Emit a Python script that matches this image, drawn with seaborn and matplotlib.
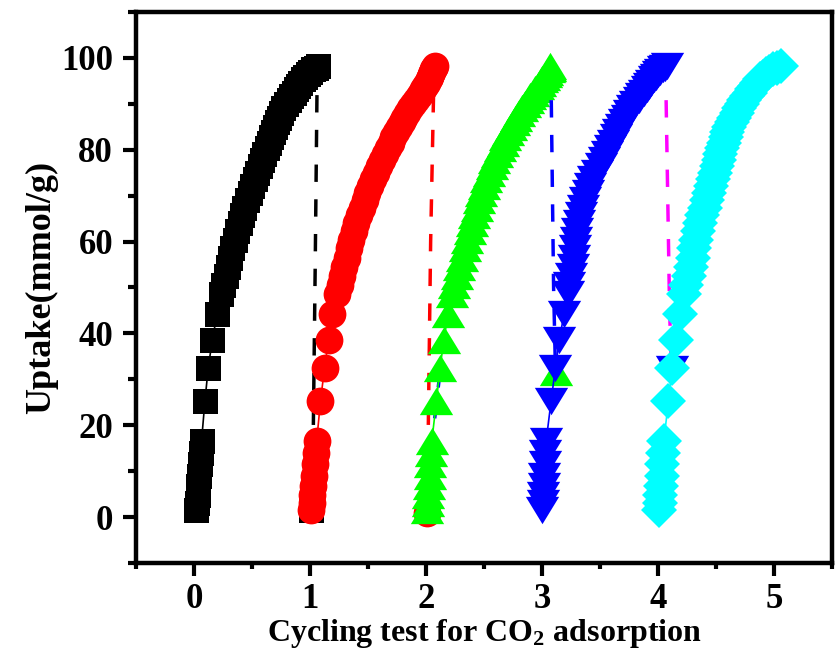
import matplotlib
matplotlib.use("Agg")
import matplotlib.pyplot as plt
from matplotlib.ticker import MultipleLocator
import seaborn as sns

# ---------------- data ----------------
uptake = [1.5, 3.0, 4.8, 6.8, 9.0, 11.5, 14.0, 16.6,
          25.2, 32.4, 38.6, 44.3,
          48.5, 50.5, 52.5, 54.5, 56.5, 58.5, 60.4, 62.2, 64.0, 65.7, 67.4, 69.0, 70.6, 72.1,
          73.6, 75.0, 76.4, 77.7, 79.0, 80.3, 81.5, 82.7, 83.8, 84.9, 86.0, 87.0, 88.0, 89.0,
          89.9, 90.8, 91.6, 92.4, 93.2, 93.9, 94.6, 95.3, 95.9, 96.5, 97.0, 97.5, 97.9, 98.2]

cycle1_x = [0.020, 0.026, 0.032, 0.038, 0.044, 0.050, 0.058, 0.065,
            0.094, 0.122, 0.158, 0.200,
            0.236, 0.254, 0.272, 0.290, 0.310, 0.330, 0.351, 0.371, 0.393, 0.414, 0.435, 0.456,
            0.479, 0.502, 0.525, 0.545, 0.566, 0.586, 0.606, 0.627, 0.645, 0.663, 0.681, 0.697,
            0.712, 0.729, 0.747, 0.771, 0.793, 0.815, 0.837, 0.858, 0.878, 0.896, 0.916, 0.937,
            0.957, 0.979, 1.000, 1.025, 1.048, 1.066]
cycle2_x = [1.008, 1.014, 1.020, 1.027, 1.034, 1.041, 1.050, 1.058,
            1.090, 1.125, 1.160, 1.190,
            1.234, 1.255, 1.275, 1.295, 1.315, 1.335, 1.356, 1.376, 1.398, 1.421, 1.447, 1.471,
            1.494, 1.517, 1.540, 1.566, 1.593, 1.618, 1.644, 1.671, 1.695, 1.719, 1.742, 1.766,
            1.791, 1.814, 1.838, 1.864, 1.889, 1.915, 1.937, 1.958, 1.978, 1.994, 2.009, 2.023,
            2.033, 2.044, 2.055, 2.063, 2.071, 2.077]
cycle3_x = [2.010, 2.015, 2.020, 2.026, 2.032, 2.038, 2.044, 2.050,
            2.090, 2.120, 2.155, 2.190,
            2.222, 2.241, 2.263, 2.286, 2.311, 2.335, 2.356, 2.376, 2.398, 2.418, 2.436, 2.455,
            2.475, 2.497, 2.520, 2.543, 2.567, 2.590, 2.613, 2.636, 2.660, 2.684, 2.707, 2.731,
            2.756, 2.779, 2.803, 2.829, 2.853, 2.875, 2.897, 2.919, 2.942, 2.964, 2.985, 3.003,
            3.019, 3.034, 3.045, 3.058, 3.066, 3.072]
cycle4_x = [3.000, 3.005, 3.010, 3.015, 3.020, 3.025, 3.030, 3.036,
            3.078, 3.115, 3.150, 3.190,
            3.222, 3.237, 3.250, 3.263, 3.273, 3.283, 3.293, 3.305, 3.321, 3.337, 3.353, 3.371,
            3.394, 3.417, 3.440, 3.475, 3.509, 3.537, 3.563, 3.586, 3.610, 3.634, 3.657, 3.681,
            3.706, 3.729, 3.753, 3.779, 3.806, 3.835, 3.857, 3.879, 3.902, 3.921, 3.941, 3.962,
            3.982, 4.002, 4.020, 4.041, 4.060, 4.075]
cycle5_x = [4.010, 4.015, 4.020, 4.025, 4.031, 4.037, 4.043, 4.050,
            4.090, 4.120, 4.155, 4.190,
            4.222, 4.241, 4.263, 4.284, 4.299, 4.314, 4.329, 4.345, 4.364, 4.383, 4.401, 4.419,
            4.436, 4.453, 4.470, 4.488, 4.505, 4.522, 4.538, 4.553, 4.568, 4.583, 4.597, 4.615,
            4.636, 4.656, 4.677, 4.701, 4.723, 4.745, 4.767, 4.789, 4.812, 4.834, 4.857, 4.882,
            4.904, 4.931, 4.960, 4.993, 5.030, 5.060]

# desorption (dashed) segments and their end points
desorb1_x = [1.060, 1.045, 1.020]
desorb1_y = [91.9, 55.0, 0.5]
desorb2_x = [2.065, 2.040, 2.020, 2.010]
desorb2_y = [91.9, 60.0, 20.0, 0.5]
desorb3_x = [3.080, 3.100, 3.115]
desorb3_y = [90.8, 50.0, 33.0]
desorb3b_x = [2.190, 2.075]
desorb3b_y = [47.0, 21.5]
desorb4_x = [4.070, 4.100, 4.115]
desorb4_y = [90.8, 45.0, 33.0]

end_x = [1.010, 2.005, 3.120, 4.120]
end_y = [1.5, 0.8, 31.7, 32.2]

x_ticks = [0, 1, 2, 3, 4, 5]
y_ticks = [0, 20, 40, 60, 80, 100]

# ---------------- style ----------------
sns.set_theme(style="ticks")
plt.rcParams["font.family"] = ["Liberation Serif", "DejaVu Serif"]
plt.rcParams["font.weight"] = "bold"
plt.rcParams["mathtext.fontset"] = "custom"
plt.rcParams["mathtext.rm"] = "Liberation Serif:bold"
plt.rcParams["mathtext.it"] = "Liberation Serif:bold"
plt.rcParams["mathtext.bf"] = "Liberation Serif:bold"
plt.rcParams["mathtext.default"] = "rm"

W, H = 835, 653
fig = plt.figure(figsize=(W / 100, H / 100), dpi=100)
fig.patch.set_facecolor("white")
ax = fig.add_axes([136 / W, 1 - 563 / H, (832 - 136) / W, (563 - 12) / H])
ax.set_facecolor("white")

tri_up = [(-1, -0.82), (1, -0.82), (0, 0.82)]
tri_dn = [(-1, 0.82), (1, 0.82), (0, -0.82)]

series = [
    (cycle1_x, "#000000", "s", 18),
    (cycle2_x, "#FF0000", "o", 20),
    (cycle3_x, "#00FF00", tri_up, 24),
    (cycle4_x, "#0000FF", tri_dn, 24),
    (cycle5_x, "#00FFFF", "D", 18.3),
]
desorb = [
    (desorb1_x, desorb1_y, "#000000"),
    (desorb2_x, desorb2_y, "#FF0000"),
    (desorb3_x, desorb3_y, "#0000FF"),
    (desorb4_x, desorb4_y, "#FF00FF"),
]

z = 2
for i, (xs, col, mk, ms) in enumerate(series):
    if i == 2:
        # small blue dashed piece lying under the green markers
        sns.lineplot(x=desorb3b_x, y=desorb3b_y, ax=ax, color="#0000FF", linewidth=2.5,
                     linestyle=(0, (5, 5)), sort=False, estimator=None, zorder=z)
        z += 1
    sns.lineplot(x=xs, y=uptake, ax=ax, color=col, linewidth=1.2, sort=False, estimator=None,
                 marker=mk, markersize=ms, markeredgewidth=0, markerfacecolor=col, zorder=z)
    z += 1
    if i < 4:
        dx, dy, dcol = desorb[i]
        sns.lineplot(x=dx, y=dy, ax=ax, color=dcol, linewidth=2.5, linestyle=(0, (5, 5)),
                     sort=False, estimator=None, zorder=z)
        z += 1
        sns.scatterplot(x=[end_x[i]], y=[end_y[i]], ax=ax, color=col, marker=mk, s=ms ** 2,
                        linewidth=0, zorder=z - 1.5 if i >= 2 else z)
        z += 1

ax.set_xlim(-0.5, 5.5)
ax.set_ylim(-10, 110)
ax.set_xticks(x_ticks)
ax.set_yticks(y_ticks)
ax.xaxis.set_minor_locator(MultipleLocator(0.5))
ax.yaxis.set_minor_locator(MultipleLocator(10))

for side in ["left", "right", "top", "bottom"]:
    ax.spines[side].set_visible(True)
    ax.spines[side].set_linewidth(3.2)
    ax.spines[side].set_color("black")

ax.tick_params(axis="both", which="major", direction="out", length=9.5, width=3,
               labelsize=25, color="black", labelcolor="black")
ax.tick_params(axis="x", which="major", pad=5)
ax.tick_params(axis="y", which="major", pad=7)
ax.tick_params(axis="x", which="minor", direction="out", length=4, width=3, color="black")
ax.tick_params(axis="y", which="minor", direction="out", length=5.5, width=3, color="black")
ax.tick_params(top=False, right=False, which="both")
for lab in ax.get_xticklabels() + ax.get_yticklabels():
    lab.set_fontweight("bold")

ax.set_xlabel("Cycling test for CO$_2$ adsorption", fontsize=23, fontweight="bold",
              labelpad=0.5, color="black")
ax.set_ylabel("Uptake(mmol/g)", fontsize=26, fontweight="bold", labelpad=2, color="black")
ax.grid(False)

fig.savefig("out.png", dpi=100, facecolor="white")
